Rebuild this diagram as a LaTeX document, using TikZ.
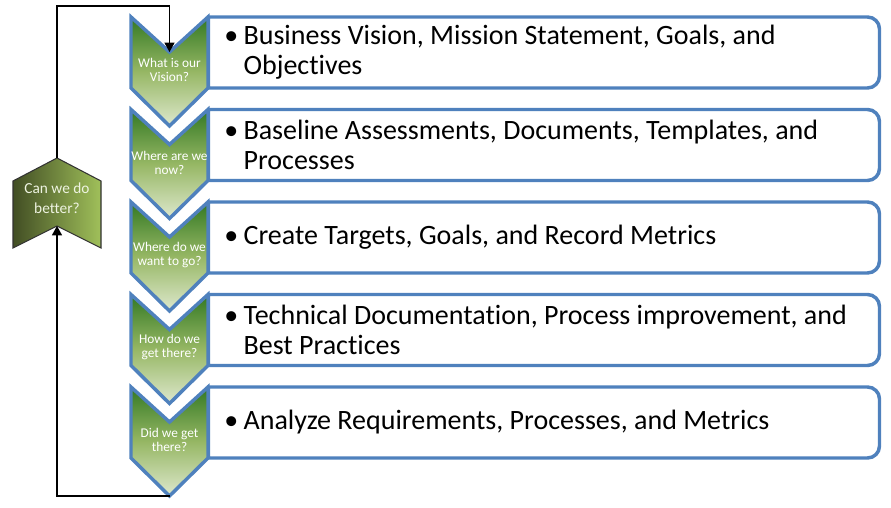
\documentclass[tikz,border=0pt]{standalone}
\usepackage{fontspec}
\setmainfont{Carlito}[Ligatures=NoCommon]
\usetikzlibrary{arrows.meta}
\definecolor{frameblue}{RGB}{79,129,189}
\definecolor{chevtop}{RGB}{50,120,35}
\definecolor{chevmid}{RGB}{150,183,100}
\definecolor{chevbot}{RGB}{222,232,205}
\definecolor{hexleft}{RGB}{66,78,36}
\definecolor{hexright}{RGB}{160,192,90}
\definecolor{cream}{RGB}{238,243,225}
\newcommand{\fcol}{frameblue}
\newcommand{\itembul}{\makebox[14.5pt][l]{\textbullet}}
\newcommand{\itemgap}{\hspace*{14.5pt}}

\begin{document}
\begin{tikzpicture}[x=0.75pt, y=-0.75pt,
    itembox/.style={draw=\fcol, line width=2.6pt, fill=white},
    chev/.style={draw=\fcol, line width=2.6pt, top color=chevtop, bottom color=chevbot, middle color=chevmid},
    better/.style={draw=black!80, line width=0.8pt, left color=hexleft, right color=hexright},
    chevtext/.style={align=center, text=white, inner sep=0pt, font=\fontsize{10}{10.5}\selectfont},
    itemtext/.style={align=left, anchor=west, inner sep=0pt, font=\fontsize{21}{22.5}\selectfont},
    loopline/.style={draw=black, line width=1pt, -{Triangle[length=7pt, width=7.5pt]}}]

    \useasboundingbox (0,0) rectangle (891,507);

    % boxes
    \draw[itembox] (208.5,17) -- (867.5,17) arc[start angle=90, end angle=0, radius=9pt] -- (879.5,76) arc[start angle=0, end angle=-90, radius=9pt] -- (208.5,88) -- cycle;
    \draw[itembox] (208.5,109.5) -- (867.5,109.5) arc[start angle=90, end angle=0, radius=9pt] -- (879.5,168.5) arc[start angle=0, end angle=-90, radius=9pt] -- (208.5,180.5) -- cycle;
    \draw[itembox] (208.5,202) -- (867.5,202) arc[start angle=90, end angle=0, radius=9pt] -- (879.5,261) arc[start angle=0, end angle=-90, radius=9pt] -- (208.5,273) -- cycle;
    \draw[itembox] (208.5,294.5) -- (867.5,294.5) arc[start angle=90, end angle=0, radius=9pt] -- (879.5,353.5) arc[start angle=0, end angle=-90, radius=9pt] -- (208.5,365.5) -- cycle;
    \draw[itembox] (208.5,387) -- (867.5,387) arc[start angle=90, end angle=0, radius=9pt] -- (879.5,446) arc[start angle=0, end angle=-90, radius=9pt] -- (208.5,458) -- cycle;

    % chevrons
    \coordinate (n1) at (169.5,52);
    \coordinate (t5) at (169.5,496);
    \draw[chev] (131,17) -- (n1) -- (208,17) -- (208,88) -- (169.5,126) -- (131,88) -- cycle;
    \draw[chev] (131,109.5) -- (169.5,144.5) -- (208,109.5) -- (208,180.5) -- (169.5,218.5) -- (131,180.5) -- cycle;
    \draw[chev] (131,202) -- (169.5,237) -- (208,202) -- (208,273) -- (169.5,311) -- (131,273) -- cycle;
    \draw[chev] (131,294.5) -- (169.5,329.5) -- (208,294.5) -- (208,365.5) -- (169.5,403.5) -- (131,365.5) -- cycle;
    \draw[chev] (131,387) -- (169.5,422) -- (208,387) -- (208,458) -- (t5) -- (131,458) -- cycle;

    \node[chevtext] (q1) at (169.5,70) {What is our\\Vision?};
    \node[chevtext] (q2) at (169.5,162.5) {Where are we\\now?};
    \node[chevtext] (q3) at (169.5,255) {Where do we\\want to go?};
    \node[chevtext] (q4) at (169.5,347.5) {How do we\\get there?};
    \node[chevtext] (q5) at (169.5,440) {Did we get\\there?};

    \node[itemtext] (a1) at (224,52.5) {\itembul Business Vision, Mission Statement, Goals, and\\\itemgap Objectives};
    \node[itemtext] (a2) at (224,145) {\itembul Baseline Assessments, Documents, Templates, and\\\itemgap Processes};
    \node[itemtext] (a3) at (224,237.5) {\itembul Create Targets, Goals, and Record Metrics};
    \node[itemtext] (a4) at (224,330) {\itembul Technical Documentation, Process improvement, and\\\itemgap Best Practices};
    \node[itemtext] (a5) at (224,422.5) {\itembul Analyze Requirements, Processes, and Metrics};

    % can we do better
    \coordinate (hxtop) at (57,158);
    \coordinate (hxnotch) at (57,226);
    \coordinate (turn) at (57,6);
    \draw[better] (hxtop) -- (101,181) -- (101,248) -- (hxnotch) -- (13,248) -- (13,181) -- cycle;
    \node[align=center, text=cream, inner sep=0pt, font=\fontsize{11.5}{15}\selectfont] (hx) at (57,198) {Can we do\\better?};

    \draw[loopline] (hxtop) -- (turn) -| (n1);
    \draw[loopline] (t5) -| (hxnotch);

\end{tikzpicture}
\end{document}
